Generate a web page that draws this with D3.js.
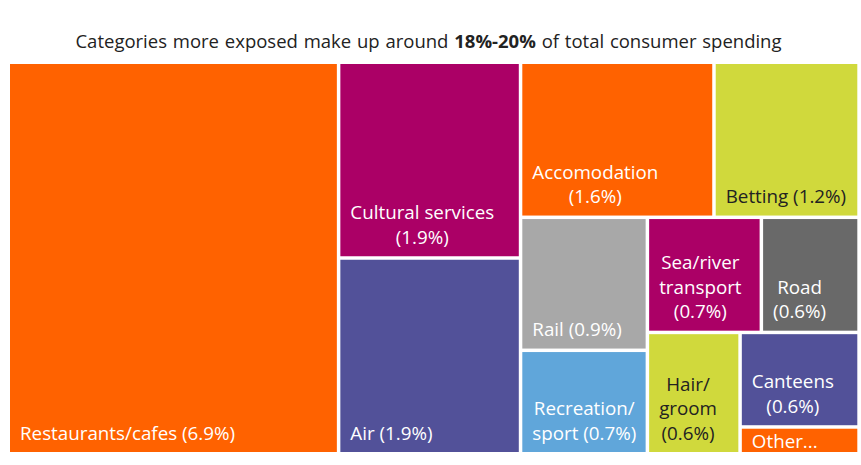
<!DOCTYPE html>
<html>
<head>
<meta charset="utf-8">
<script src="https://cdn.jsdelivr.net/npm/d3@7"></script>
<style>
  body { margin: 0; background: #fff; }
  svg text { font-family: "Open Sans", "Noto Sans", sans-serif; }
</style>
</head>
<body>
<svg id="chart" width="861" height="465"></svg>
<script>
// Share of total consumer spending (%) by category; "\n" marks a forced line break in the label
const categories = [
  "Restaurants/cafes", "Cultural services", "Air", "Accomodation", "Betting", "Rail",
  "Recreation/\nsport", "Sea/river\ntransport", "Road", "Hair/\ngroom", "Canteens", "Other..."
];
const shares = [6.9, 1.9, 1.9, 1.6, 1.2, 0.9, 0.7, 0.7, 0.6, 0.6, 0.6, 0.17];
// Whether the value goes on its own line, and whether it is shown at all
const valueOnOwnLine = [false, true, false, true, false, false, false, true, true, true, true, false];
const showValue = [true, true, true, true, true, true, true, true, true, true, true, false];

const orange = "#ff6200", raspberry = "#ab0066", violet = "#525199", lime = "#d0d93c",
      grey = "#a8a8a8", darkGrey = "#696969", sky = "#60a6da";
const fill = d3.scaleOrdinal()
  .domain(categories)
  .range([orange, raspberry, violet, orange, lime, grey, sky, raspberry, darkGrey, lime, violet, orange]);
const ink = c => (c === lime ? "#222" : "#fff");

const svg = d3.select("#chart");
const plot = { x: 10, y: 64, w: 847.3, h: 388 };

// Title
const title = svg.append("text")
  .attr("x", 428.5).attr("y", 48)
  .attr("text-anchor", "middle")
  .attr("font-size", 18.5)
  .attr("word-spacing", 1)
  .attr("fill", "#222");
title.append("tspan").text("Categories more exposed make up around ");
title.append("tspan").attr("font-weight", 700).text("18%-20%");
title.append("tspan").text(" of total consumer spending");

// Treemap layout
const root = d3.hierarchy({ children: categories.map((c, i) => ({ name: c, value: shares[i], i })) })
  .sum(d => d.value || 0)
  .sort((a, b) => b.value - a.value);

d3.treemap()
  .tile(d3.treemapSquarify.ratio(1))
  .size([plot.w, plot.h])
  .paddingInner(3.5)(root);

const g = svg.append("g").attr("transform", `translate(${plot.x},${plot.y})`);
const fmt = d3.format(".1f");

const cell = g.selectAll("g.cell")
  .data(root.leaves())
  .join("g")
  .attr("class", "cell");

cell.append("rect")
  .attr("x", d => d.x0)
  .attr("y", d => d.y0)
  .attr("width", d => d.x1 - d.x0)
  .attr("height", d => d.y1 - d.y0)
  .attr("fill", d => fill(d.data.name));

const padX = 10, padBottom = 12.5, minTop = 19, lineH = 24.5, fontSize = 18.8;

cell.each(function (d) {
  const i = d.data.i;
  const lines = d.data.name.split("\n");
  if (showValue[i]) {
    const v = `(${fmt(d.data.value)}%)`;
    if (valueOnOwnLine[i]) lines.push(v);
    else lines[lines.length - 1] += " " + v;
  }
  const colour = ink(fill(d.data.name));
  // Bottom-anchored block; a cell too short for it keeps the first line just below its top
  const lastBase = Math.max(d.y1 - padBottom, d.y0 + minTop + (lines.length - 1) * lineH);
  const texts = d3.select(this).selectAll("text.lbl")
    .data(lines)
    .join("text")
    .attr("class", "lbl")
    .attr("font-size", fontSize)
    .attr("fill", colour)
    .attr("y", (t, k) => lastBase - (lines.length - 1 - k) * lineH)
    .text(t => t);
  let maxW = 0;
  texts.each(function () { maxW = Math.max(maxW, this.getComputedTextLength()); });
  texts.attr("text-anchor", "middle").attr("x", d.x0 + padX + maxW / 2);
});
</script>
</body>
</html>
